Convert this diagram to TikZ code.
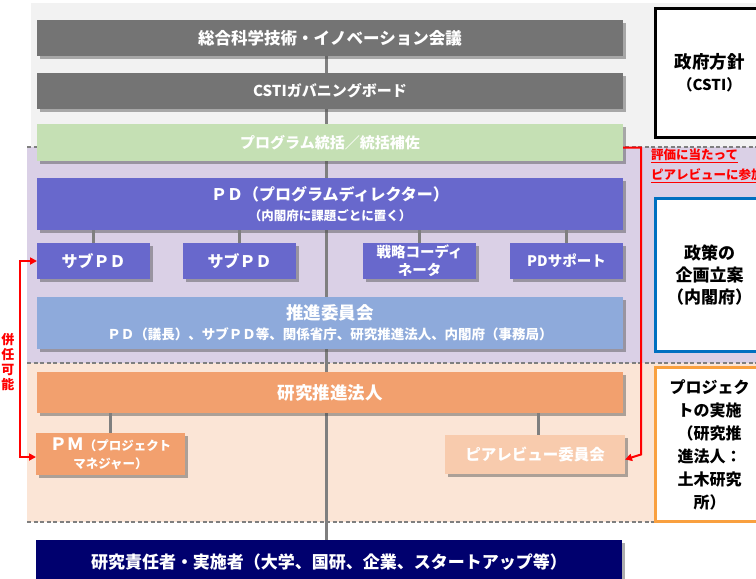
\documentclass[tikz,border=0pt]{standalone}
\usepackage{fontspec}
\setmainfont{Noto Sans CJK JP}
\usetikzlibrary{shadows,arrows.meta}
\definecolor{cGray}{HTML}{747474}
\definecolor{cBgGray}{HTML}{F2F2F2}
\definecolor{cGreen}{HTML}{C5E0B4}
\definecolor{cPurpleBg}{HTML}{DAD0E6}
\definecolor{cPD}{HTML}{6868CC}
\definecolor{cSuishin}{HTML}{8EAADB}
\definecolor{cPeachBg}{HTML}{FBE5D6}
\definecolor{cOrange}{HTML}{F2A06E}
\definecolor{cPeer}{HTML}{F8CBAD}
\definecolor{cNavy}{HTML}{00006E}
\definecolor{cBlue}{HTML}{0070C0}
\definecolor{cOrBorder}{HTML}{F9A03F}
\definecolor{cLine}{HTML}{7F7F7F}
\pgfdeclarelayer{bgzero}
\pgfdeclarelayer{bgone}
\pgfsetlayers{bgzero,bgone,main}
\begin{document}
\begin{tikzpicture}[x=1pt,y=-1pt,
  box/.style={draw=none, inner sep=0pt, outer sep=0pt, anchor=north west, align=center,
    text=white, drop shadow={shadow xshift=3pt,shadow yshift=-3pt,opacity=0.45,fill=black!70}},
  sidebox/.style={draw, line width=3pt, fill=white, inner sep=0pt, anchor=north west, align=center,
    text=black},
  conn/.style={draw=cLine, line width=3pt},
  dashline/.style={draw=cLine, line width=1.5pt, dash pattern=on 4pt off 2.5pt},
  redline/.style={draw=red, line width=2pt},
  redtip/.style={-{Triangle[length=7pt,width=7pt]}},
]
\useasboundingbox (0,0) rectangle (756,579);

% main boxes
\node[box, fill=cGray, minimum width=586pt, minimum height=36pt,
  font=\bfseries\fontsize{16.5}{20}\selectfont] (title) at (37,20) {総合科学技術・イノベーション会議};
\node[box, fill=cGray, minimum width=586pt, minimum height=36pt,
  font=\bfseries\fontsize{15}{18}\selectfont] (csti) at (37,73) {CSTIガバニングボード};
\node[box, fill=cGreen, minimum width=586pt, minimum height=37pt,
  font=\bfseries\fontsize{15}{18}\selectfont] (green) at (37,124) {プログラム統括／統括補佐};
\node[box, fill=cPD, minimum width=586pt, minimum height=52pt,
  font=\bfseries\fontsize{16}{20}\selectfont] (pd) at (37,178)
  {ＰＤ（プログラムディレクター）\\{\fontsize{12.5}{15}\selectfont （内閣府に課題ごとに置く）}};
\node[box, fill=cPD, minimum width=113pt, minimum height=36pt,
  font=\bfseries\fontsize{16}{20}\selectfont] (subpdA) at (37,243) {サブＰＤ};
\node[box, fill=cPD, minimum width=113pt, minimum height=36pt,
  font=\bfseries\fontsize{16}{20}\selectfont] (subpdB) at (183,243) {サブＰＤ};
\node[box, fill=cPD, minimum width=113pt, minimum height=36pt,
  font=\bfseries\fontsize{14.5}{18}\selectfont] (coord) at (363,243) {戦略コーディ\\ネータ};
\node[box, fill=cPD, minimum width=113pt, minimum height=36pt,
  font=\bfseries\fontsize{14.5}{18}\selectfont] (pdsup) at (510,243) {PDサポート};
\node[box, fill=cSuishin, minimum width=586pt, minimum height=52pt,
  font=\bfseries\fontsize{17.5}{20}\selectfont] (suishin) at (37,297)
  {推進委員会\\{\fontsize{13.5}{15}\selectfont ＰＤ（議長）、サブＰＤ等、関係省庁、研究推進法人、内閣府（事務局）}};
\node[box, fill=cOrange, minimum width=586pt, minimum height=41pt,
  font=\bfseries\fontsize{17.5}{20}\selectfont] (hojin) at (37,372) {研究推進法人};
\node[box, fill=cOrange, minimum width=149pt, minimum height=42pt,
  font=\bfseries\fontsize{12.5}{18}\selectfont] (pm) at (36,433)
  {{\fontsize{17}{18}\selectfont ＰＭ}（プロジェクト\\マネジャー）};
\node[box, fill=cPeer, minimum width=180pt, minimum height=39pt,
  font=\bfseries\fontsize{15.5}{18}\selectfont] (peer) at (445,435) {ピアレビュー委員会};
\node[box, fill=cNavy, minimum width=586pt, minimum height=52pt,
  font=\bfseries\fontsize{17}{20}\selectfont] (impl) at (36,540)
  {\raisebox{10pt}{研究責任者・実施者（大学、国研、企業、スタートアップ等）}};

% side boxes
\node[sidebox, draw=black, minimum width=108pt, minimum height=129pt,
  font=\bfseries\fontsize{17.5}{22}\selectfont] (gov) at (654,7) {政府方針\\{\fontsize{15}{18}\selectfont （CSTI）}};
\node[sidebox, draw=cBlue, minimum width=108pt, minimum height=153pt,
  font=\bfseries\fontsize{17}{22}\selectfont] (plan) at (654,197) {政策の\\企画立案\\（内閣府）};
\node[sidebox, draw=cOrBorder, minimum width=108pt, minimum height=154pt,
  font=\bfseries\fontsize{16}{23}\selectfont] (proj) at (654,366)
  {プロジェク\\トの実施\\（研究推\\進法人：\\土木研究\\所）};

% red notes
\node[anchor=north west, inner sep=0pt, text=red, align=left,
  font=\bfseries\fontsize{12.5}{20}\selectfont] (note) at (651,149)
  {\underline{評価に当たって}\\\underline{ピアレビューに参加}};
\node[inner sep=0pt, text=red, align=center,
  font=\bfseries\fontsize{13}{17.7}\selectfont] (kennin) at (8,362)
  {併\\[-3pt]任\\[-3pt]可\\[-3pt]能};

% red connectors
\coordinate (rx) at (641,0);
\coordinate (lx) at (20,0);
\draw[redline, redtip] ([yshift=-5pt]green.east) -| (rx |- peer.east) -- ([yshift=-5pt]peer.east);
\draw[redline, {Triangle[length=7pt,width=7pt]}-{Triangle[length=7pt,width=7pt]}]
  (subpdA.west) -| (lx |- pm.west) |- ([yshift=-3pt]pm.west);

% backgrounds
\begin{pgfonlayer}{bgzero}
  \fill[white] (0,0) rectangle (756,579);
  \fill[cBgGray] (31,3) rectangle (756,147);
  \fill[cPurpleBg] (27,147) rectangle (756,363);
  \fill[cPeachBg] (27,363) rectangle (756,522);
  \draw[dashline] (27,147) -- (756,147);
  \draw[dashline] (27,363) -- (756,363);
  \draw[dashline] (27,522) -- (756,522);
\end{pgfonlayer}

% grey connectors
\coordinate (sx) at (326,0);
\begin{pgfonlayer}{bgone}
  \draw[conn] (title.south -| sx) -- (impl.north -| sx);
\end{pgfonlayer}
\draw[conn] (pd.south -| subpdA.north) -- (subpdA.north);
\draw[conn] (pd.south -| subpdB.north) -- (subpdB.north);
\draw[conn] (pd.south -| coord.north) -- (coord.north);
\draw[conn] (pd.south -| pdsup.north) -- (pdsup.north);
\draw[conn] (hojin.south -| pm.north) -- (pm.north);
\draw[conn] ([xshift=3pt]hojin.south -| peer.north) -- ([xshift=3pt]peer.north);
\end{tikzpicture}
\end{document}
